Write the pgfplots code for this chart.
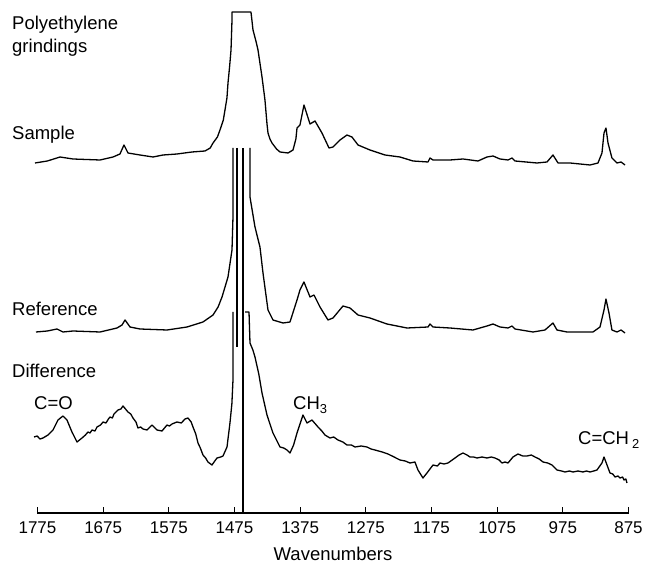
\documentclass[border=0pt]{standalone}
\usepackage{pgfplots}
\pgfplotsset{compat=1.18}
\usepackage{fontspec}
\setmainfont{Liberation Sans}
\newcommand\lab{\fontsize{18.5}{22}\selectfont}
\begin{document}
\begin{tikzpicture}
\useasboundingbox (-37.5pt,-51pt) rectangle (614.5pt,513pt);
\begin{axis}[
  name=ax, scale only axis, width=591pt, height=513pt,
  xmin=875, xmax=1775, ymin=51, ymax=564, x dir=reverse,
  enlargelimits=false, clip=false,
  axis y line=none, axis x line*=bottom,
  x axis line style={-, line width=1.1pt},
  xtick={875,975,1075,1175,1275,1375,1475,1575,1675,1775},
  xtick align=inside, major tick length=6pt,
  every tick/.style={line width=1.1pt, black},
  xticklabel style={font=\fontsize{17}{20}\selectfont, yshift=-5pt},
  /pgf/number format/assume math mode=true,
  /pgf/number format/1000 sep={},
  ytick=\empty,
  every axis plot post/.append style={black, solid, line width=1.3pt, line join=round, mark=none},
]
% Sample
\addplot coordinates {
(1778.8,401)(1760,403)(1740.7,407)(1720.9,405)(1679.8,404)(1660.0,407)(1649.4,410)(1643.3,419)
(1637.2,411)(1618.9,409)(1599.1,407)(1583.9,409)(1562.6,410)(1539.7,412)(1519.9,413)
(1512,416)(1507.7,421)(1501,427)(1497.1,434)(1492,444)(1489.5,454)(1486.5,466)(1484.9,481)(1482.5,497)(1480.3,514)(1478.8,544)(1478.8,552)
(1449.9,552)(1446.8,534)(1442,522)(1439.2,514)(1433.1,487)(1428.6,464)(1425.5,440)(1424.0,431)(1421,425)(1417.9,421)
(1411,415)(1405.7,412)(1393.5,411)(1385.9,414)(1381.5,425)(1379.8,436)(1375.3,439)(1369.2,459)(1360.0,440)
(1352.4,443)(1341.8,431)(1331.1,416)(1325.0,417)(1314.3,424)(1303.7,429)(1296.1,427)
(1286.9,419)(1268.7,414)(1245.8,409)(1223.0,407)(1203.2,403)(1180.3,402)(1177.3,406)
(1172.7,404)(1146.8,404)(1127.0,405)(1104.2,403)(1090.5,407)(1081.3,408)(1070.7,405)
(1058.5,404)(1052.4,406)(1047.8,403)(1014.3,401)(999.1,402)(990.0,409)(982.3,401)
(964.1,401)(933.6,399)(921.5,401)(915.4,411)(912.3,431)(909.3,436)(906.2,421)
(900.2,406)(892.5,401)(886.4,402)(880.3,399)
};
% Reference (left part)
\addplot coordinates {
(1777.3,232)(1760,233)(1745.3,235)(1736.2,232)(1720.9,233)(1679.8,232)(1653.9,236)(1646.3,239)
(1641.7,244)(1634.1,237)(1618.9,235)(1577.8,234)(1547.3,237)(1523.0,242)(1507.7,249)
(1500,257)(1494.0,267)(1484.9,287)(1478.8,314)(1477.3,347)(1477.3,416)
};
% Reference (off-scale pen strokes)
\addplot coordinates {(1471.2,416)(1471.2,217)};
\addplot coordinates {(1462.1,51)(1462.1,416)};
% Reference (right part)
\addplot coordinates {
(1451.4,416)(1451.4,367)(1443.8,337)(1436.2,317)(1431.6,291)
(1424.0,254)(1416.4,244)(1401.1,241)(1390.5,242)(1379.8,264)(1375.3,274)(1369.2,282)
(1360.0,267)(1353.9,269)(1344.8,257)(1332.6,244)(1325.0,246)(1309.8,258)(1299.1,256)
(1286.9,249)(1268.7,246)(1242.8,240)(1212.3,236)(1180.3,237)(1177.3,240)(1172.7,237)
(1146.8,236)(1111.8,234)(1090.5,238)(1081.3,240)(1070.7,237)(1058.5,236)(1052.4,238)
(1047.8,235)(1020.4,232)(1002.2,234)(990.0,241)(983.9,234)(968.7,232)(929.1,232)
(918.4,237)(912.3,254)(909.3,265)(904.7,251)(900.2,234)(892.5,232)(886.4,234)(880.3,231)
};
% Difference (left part)
\addplot coordinates {
(1780.3,127)(1775.5,128)(1771.2,125)(1766.6,126)(1759.0,129)(1751.4,134)(1743.8,144)(1736.2,148)
(1730.1,144)(1722.5,132)(1714.8,122)(1707.2,126)(1702,129)(1698.1,132)(1695,131)(1692.0,134)(1687.4,133)
(1684.4,137)(1679,139)(1675.2,142)(1670.7,141)(1667,145)(1664.6,147)(1661,146)(1658.5,150)(1652.4,154)(1648,155)(1644.8,158)
(1637.2,152)(1633,150)(1629.6,146)(1625.0,142)(1622.0,136)(1618,137)(1614.3,135)(1608.2,134)(1600.6,139)
(1593.0,134)(1585.4,133)(1577.8,139)(1574,138)(1570.2,140)(1562.6,142)(1556,141)(1550.4,145)(1545.8,146)
(1541,142)(1538.2,137)(1534,130)(1530.6,121)(1527,116)(1523.0,109)(1519,106)(1515.4,102)(1509.3,99)(1505,103)(1501.6,106)(1496,107)(1492.5,108)
(1486.4,117)(1481.9,141)(1479,160)(1477.3,184)(1477.3,252)
};
% Difference (right part)
\addplot coordinates {
(1459.0,252)(1452.9,252)(1451.4,221)(1447,214)(1443.8,207)(1438,190)(1433.1,171)(1425.5,149)(1421,140)(1416.4,131)
(1411,124)(1405.7,117)(1400,116)(1395.1,114)(1390.5,111)(1385,119)(1379.8,131)(1370.7,149)(1364.6,141)(1357.0,144)
(1347.8,137)(1342,133)(1337.2,129)(1329.6,126)(1324,127)(1317.4,124)(1310,122)(1303.7,119)(1297,119)(1291.5,117)(1282,118)(1273.3,117)
(1267,115)(1261.1,114)(1250,112)(1241.2,110)(1232,107)(1223.0,104)(1215,103)(1207.8,101)(1200.2,102)(1195.6,94)(1188.0,86)
(1181.9,91)(1172.7,99)(1166,98)(1162.1,101)(1156,100)(1149.9,101)(1139.2,106)(1133,109)(1127.0,111)(1121,109)(1116.4,107)
(1111,107)(1105.7,106)(1098,107)(1090.5,106)(1084,107)(1078.3,106)(1072,104)(1067.6,101)(1063,102)(1058.5,101)(1050.9,107)(1043.3,110)
(1036,108)(1029.6,108)(1023,109)(1017.4,107)(1011,105)(1005.2,102)(998,101)(991.5,99)(983.9,94)(977,93)(971.7,92)(965,93)(959.5,92)
(952,93)(944.3,92)(939,93)(933.6,92)(928,93)(923.0,94)(915.4,101)(912.3,107)(907.7,99)(903.2,91)(899,90)(895.5,87)
(891,88)(887.9,86)(884,87)(881.8,84)(879,85)(877.3,81)
};
\node[anchor=base west, inner sep=0pt] at (axis cs:1813.8,534) {\lab Polyethylene};
\node[anchor=base west, inner sep=0pt] at (axis cs:1813.8,511) {\lab grindings};
\node[anchor=base west, inner sep=0pt] at (axis cs:1813.8,424) {\lab Sample};
\node[anchor=base west, inner sep=0pt] at (axis cs:1813.8,248) {\lab Reference};
\node[anchor=base west, inner sep=0pt] at (axis cs:1813.8,186) {\lab Difference};
\node[anchor=base west, inner sep=0pt] at (axis cs:1780.3,154) {\lab C=O};
\node[anchor=base west, inner sep=0pt] at (axis cs:1385.9,154) {\lab CH\textsubscript{3}};
\node[anchor=base west, inner sep=0pt] at (axis cs:951.9,119) {\lab C=CH\,\textsubscript{2}};
\node[anchor=base, inner sep=0pt] at (axis cs:1325,4) {\lab Wavenumbers};
\end{axis}
\end{tikzpicture}
\end{document}
